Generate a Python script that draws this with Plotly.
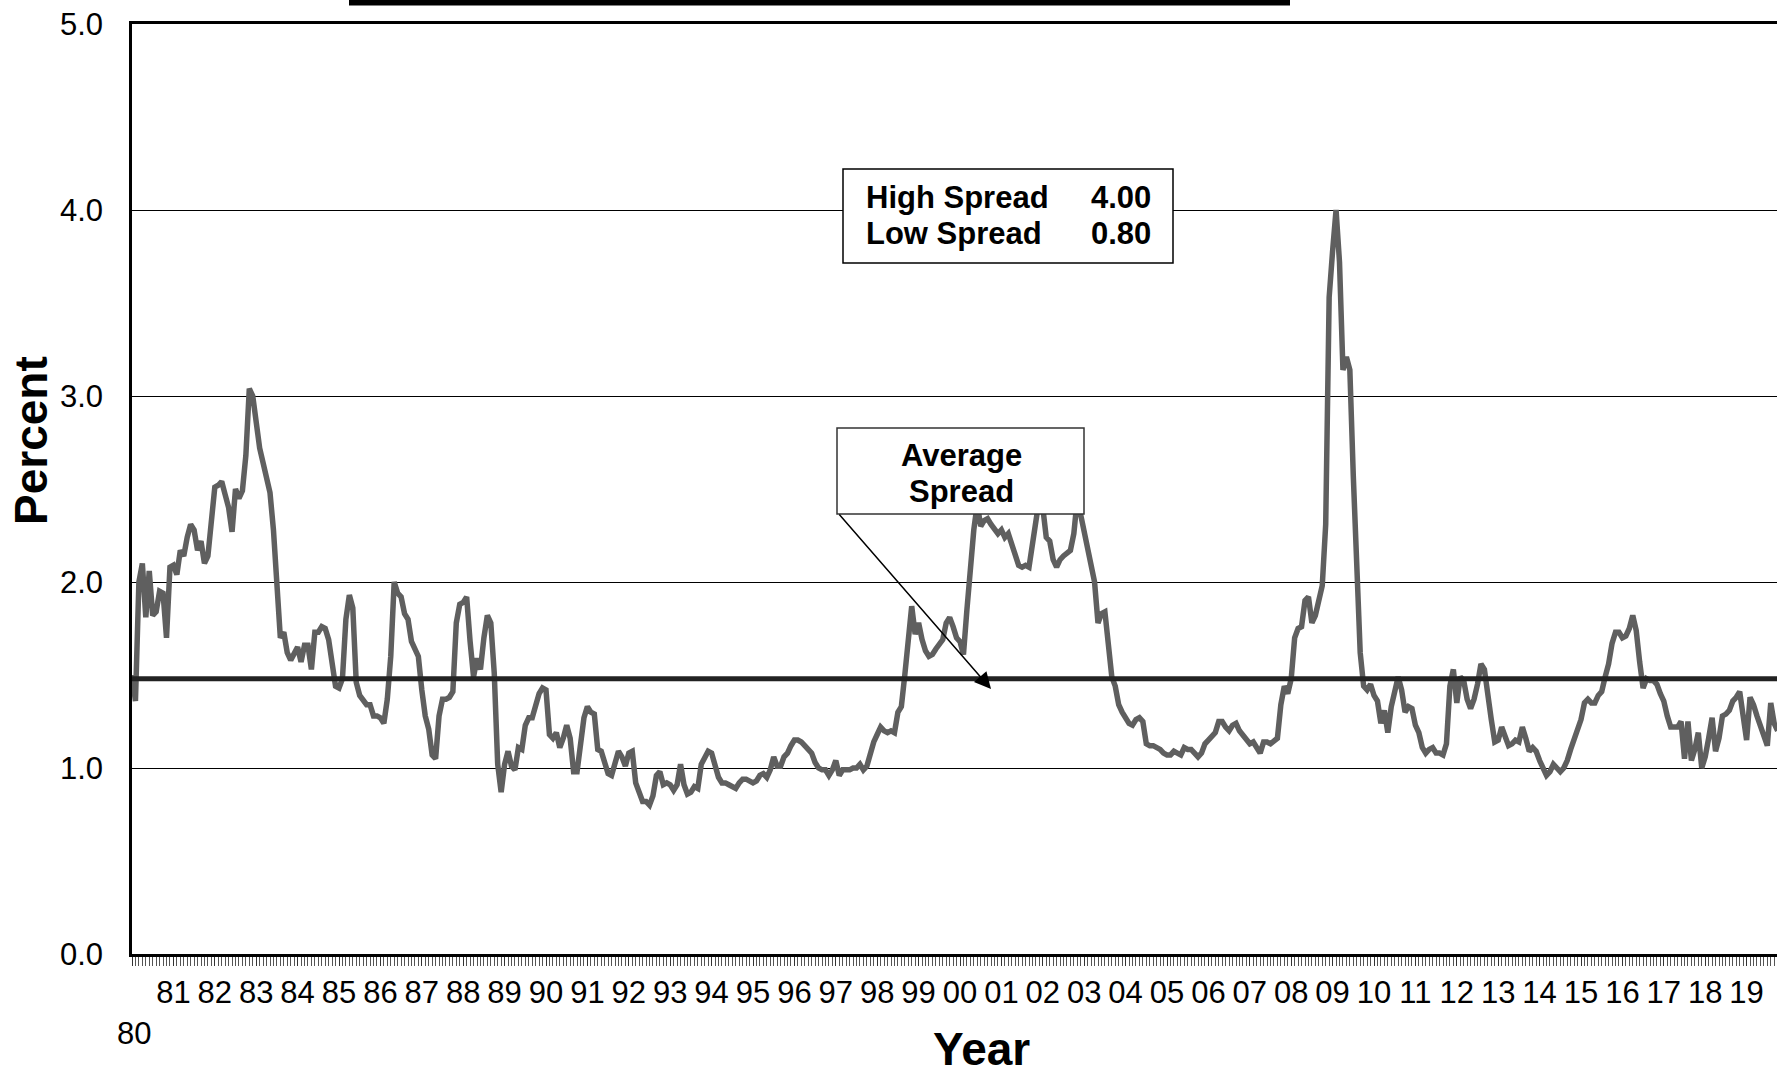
import plotly.graph_objects as go

# Monthly spread (percent), Jan 1980 onwards
spread_1980s = [
    1.50, 1.36, 2.00, 2.10, 1.81, 2.06, 1.82, 1.84, 1.95, 1.94, 1.70, 2.08,  # 1980
    2.09, 2.04, 2.17, 2.14, 2.24, 2.31, 2.28, 2.17, 2.22, 2.10, 2.14, 2.35,  # 1981
    2.51, 2.52, 2.54, 2.47, 2.40, 2.27, 2.50, 2.45, 2.49, 2.68, 3.04, 3.00,  # 1982
    2.83, 2.72, 2.64, 2.55, 2.48, 2.28, 1.92, 1.70, 1.73, 1.62, 1.58, 1.61,  # 1983
    1.65, 1.57, 1.66, 1.66, 1.53, 1.73, 1.73, 1.76, 1.75, 1.69, 1.57, 1.44,  # 1984
    1.43, 1.48, 1.80, 1.93, 1.86, 1.46, 1.39, 1.37, 1.34, 1.34, 1.28, 1.28,  # 1985
    1.27, 1.24, 1.37, 1.60, 2.00, 1.94, 1.92, 1.83, 1.80, 1.68, 1.63, 1.60,  # 1986
    1.42, 1.28, 1.21, 1.07, 1.05, 1.28, 1.37, 1.37, 1.38, 1.41, 1.78, 1.88,  # 1987
    1.89, 1.92, 1.68, 1.49, 1.59, 1.53, 1.70, 1.82, 1.78, 1.51, 1.02, 0.87,  # 1988
    1.02, 1.09, 1.01, 0.99, 1.11, 1.10, 1.23, 1.27, 1.27, 1.33, 1.40, 1.43,  # 1989
]
spread_1990s = [
    1.42, 1.18, 1.16, 1.19, 1.11, 1.16, 1.23, 1.16, 0.98, 0.98, 1.12, 1.27,  # 1990
    1.33, 1.30, 1.29, 1.10, 1.09, 1.03, 0.97, 0.96, 1.03, 1.09, 1.06, 1.01,  # 1991
    1.08, 1.09, 0.92, 0.86, 0.82, 0.82, 0.80, 0.85, 0.96, 0.98, 0.91, 0.92,  # 1992
    0.91, 0.88, 0.91, 1.02, 0.91, 0.86, 0.87, 0.90, 0.89, 1.02, 1.05, 1.09,  # 1993
    1.08, 1.02, 0.95, 0.92, 0.92, 0.91, 0.90, 0.89, 0.92, 0.94, 0.94, 0.93,  # 1994
    0.92, 0.93, 0.96, 0.97, 0.95, 0.99, 1.06, 1.01, 1.01, 1.06, 1.08, 1.12,  # 1995
    1.15, 1.15, 1.14, 1.12, 1.10, 1.08, 1.03, 1.00, 0.99, 0.99, 0.96, 0.99,  # 1996
    1.04, 0.96, 0.99, 0.99, 0.99, 1.00, 1.00, 1.02, 0.99, 1.01, 1.08, 1.14,  # 1997
    1.18, 1.22, 1.20, 1.19, 1.20, 1.19, 1.30, 1.33, 1.50, 1.72, 1.87, 1.72,  # 1998
    1.78, 1.69, 1.63, 1.60, 1.61, 1.64, 1.67, 1.69, 1.78, 1.81, 1.76, 1.70,  # 1999
]
spread_2000s = [
    1.68, 1.61, 1.85, 2.10, 2.28, 2.42, 2.30, 2.33, 2.34, 2.31, 2.29, 2.26,  # 2000
    2.28, 2.24, 2.26, 2.21, 2.16, 2.09, 2.08, 2.09, 2.08, 2.21, 2.30, 2.45,  # 2001
    2.40, 2.24, 2.22, 2.12, 2.08, 2.12, 2.14, 2.16, 2.17, 2.26, 2.45, 2.36,  # 2002
    2.26, 2.17, 2.10, 2.00, 1.78, 1.83, 1.84, 1.64, 1.49, 1.44, 1.34, 1.30,  # 2003
    1.27, 1.24, 1.23, 1.26, 1.27, 1.25, 1.13, 1.12, 1.12, 1.11, 1.10, 1.08,  # 2004
    1.07, 1.07, 1.09, 1.08, 1.07, 1.11, 1.10, 1.10, 1.08, 1.06, 1.08, 1.13,  # 2005
    1.15, 1.17, 1.19, 1.25, 1.25, 1.22, 1.20, 1.23, 1.24, 1.20, 1.18, 1.15,  # 2006
    1.13, 1.14, 1.11, 1.08, 1.14, 1.14, 1.13, 1.15, 1.16, 1.34, 1.44, 1.40,  # 2007
    1.48, 1.70, 1.75, 1.76, 1.90, 1.92, 1.78, 1.82, 1.92, 1.98, 2.31, 3.53,  # 2008
    3.78, 4.00, 3.72, 3.14, 3.21, 3.14, 2.57, 2.00, 1.62, 1.44, 1.42, 1.45,  # 2009
]
spread_2010s = [
    1.39, 1.36, 1.24, 1.31, 1.19, 1.33, 1.40, 1.49, 1.42, 1.30, 1.33, 1.32,  # 2010
    1.23, 1.19, 1.11, 1.08, 1.10, 1.11, 1.08, 1.08, 1.07, 1.13, 1.44, 1.53,  # 2011
    1.35, 1.49, 1.47, 1.37, 1.32, 1.37, 1.45, 1.56, 1.53, 1.37, 1.26, 1.14,  # 2012
    1.15, 1.22, 1.16, 1.12, 1.13, 1.15, 1.14, 1.22, 1.16, 1.09, 1.11, 1.09,  # 2013
    1.04, 0.99, 0.96, 0.98, 1.02, 1.00, 0.98, 1.00, 1.04, 1.10, 1.16, 1.21,  # 2014
    1.26, 1.35, 1.37, 1.35, 1.35, 1.39, 1.41, 1.49, 1.56, 1.67, 1.73, 1.73,  # 2015
    1.70, 1.71, 1.75, 1.82, 1.74, 1.57, 1.43, 1.48, 1.47, 1.47, 1.45, 1.40,  # 2016
    1.36, 1.28, 1.22, 1.22, 1.22, 1.25, 1.05, 1.25, 1.04, 1.10, 1.19, 1.00,  # 2017
    1.06, 1.16, 1.27, 1.09, 1.16, 1.28, 1.29, 1.31, 1.36, 1.38, 1.41, 1.28,  # 2018
    1.15, 1.38, 1.34, 1.28, 1.22, 1.18, 1.12, 1.35, 1.24, 1.20,              # 2019
]

average_spread = 1.48
high_spread = 4.00
low_spread = 0.80

year_labels = ["80", "81", "82", "83", "84", "85", "86", "87", "88", "89",
               "90", "91", "92", "93", "94", "95", "96", "97", "98", "99",
               "00", "01", "02", "03", "04", "05", "06", "07", "08", "09",
               "10", "11", "12", "13", "14", "15", "16", "17", "18", "19"]
y_ticks = [0, 1, 2, 3, 4, 5]

spread = spread_1980s + spread_1990s + spread_2000s + spread_2010s
months = list(range(len(spread)))  # category positions, one per month

# page geometry (pixels)
W, H = 1777, 1075
L, R, T, B = 132, 0, 24, 121
PW, PH = W - L - R, H - T - B
MONTH_PX = 3.45


def fx(px):
    return (px - L) / PW


def fy(py):
    return (T + PH - py) / PH


FONT = "Liberation Sans, Arial, sans-serif"
TICK_SIZE = 31

fig = go.Figure()
fig.add_trace(go.Scatter(
    x=months, y=spread, mode="lines",
    line=dict(color="#5f5f5f", width=5.5), hoverinfo="skip",
))
fig.add_trace(go.Scatter(
    x=months, y=[average_spread] * len(months), mode="lines",
    line=dict(color="#222222", width=5), hoverinfo="skip",
))

fig.update_layout(
    width=W, height=H,
    margin=dict(l=L, r=R, t=T, b=B, pad=0),
    paper_bgcolor="white", plot_bgcolor="white",
    showlegend=False,
    font=dict(family=FONT, color="black"),
)

fig.update_xaxes(
    range=[0, PW / MONTH_PX],
    tickmode="array",
    tickvals=[12 * i for i in range(len(year_labels))],
    ticktext=[""] + year_labels[1:],
    ticks="outside", ticklen=9, tickwidth=1, tickcolor="#333333",
    minor=dict(dtick=1, tick0=0, ticks="outside", ticklen=9,
               tickwidth=1, tickcolor="#555555", showgrid=False),
    tickfont=dict(size=TICK_SIZE, family=FONT, color="black"),
    ticklabelstandoff=0,
    showline=True, linecolor="black", linewidth=2.5, mirror=True,
    showgrid=False, zeroline=False, fixedrange=True,
)
fig.update_yaxes(
    range=[0, 5],
    tickmode="array", tickvals=y_ticks,
    ticktext=[f"{v:.1f}" for v in y_ticks],
    ticks="", tickfont=dict(size=TICK_SIZE, family=FONT, color="black"),
    ticklabelstandoff=20,
    showgrid=True, gridcolor="black", gridwidth=1,
    showline=True, linecolor="black", linewidth=2.5,
    zeroline=False, fixedrange=True,
)

# title box edge along the top of the page
fig.add_shape(type="rect", xref="paper", yref="paper",
              x0=fx(349), x1=fx(1290), y0=fy(5.5), y1=fy(-2),
              fillcolor="black", line=dict(width=0), layer="above")
# high / low box
fig.add_shape(type="rect", xref="paper", yref="paper",
              x0=fx(843), x1=fx(1173), y0=fy(263), y1=fy(169),
              fillcolor="white", line=dict(color="black", width=1.5), layer="above")
# average spread callout box
fig.add_shape(type="rect", xref="paper", yref="paper",
              x0=fx(837), x1=fx(1084), y0=fy(514), y1=fy(428),
              fillcolor="white", line=dict(color="#333333", width=1.5), layer="above")

bold31 = dict(family=FONT, size=31, color="black")
ann = [
    dict(text="<b>High Spread</b>", x=fx(864), y=fy(197), xanchor="left", yanchor="middle", font=bold31),
    dict(text=f"<b>{high_spread:.2f}</b>", x=fx(1153), y=fy(197), xanchor="right", yanchor="middle", font=bold31),
    dict(text="<b>Low Spread</b>", x=fx(864), y=fy(233), xanchor="left", yanchor="middle", font=bold31),
    dict(text=f"<b>{low_spread:.2f}</b>", x=fx(1153), y=fy(233), xanchor="right", yanchor="middle", font=bold31),
    dict(text="<b>Average</b>", x=fx(961), y=fy(455), xanchor="center", yanchor="middle", font=bold31),
    dict(text="<b>Spread</b>", x=fx(961), y=fy(492), xanchor="center", yanchor="middle", font=bold31),
    dict(text="<b>Year</b>", x=fx(981), y=fy(1049), xanchor="center", yanchor="middle",
         font=dict(family=FONT, size=46, color="black")),
    dict(text="<b>Percent</b>", x=fx(31), y=fy(441), xanchor="center", yanchor="middle",
         textangle=-90, font=dict(family=FONT, size=46, color="black")),
    dict(text=year_labels[0], x=fx(134), y=fy(1033), xanchor="center", yanchor="middle",
         font=dict(family=FONT, size=TICK_SIZE, color="black")),
]
for a in ann:
    fig.add_annotation(xref="paper", yref="paper", showarrow=False, **a)

# arrow from the callout box to the average line
fig.add_annotation(
    xref="paper", yref="paper", x=fx(991), y=fy(689),
    axref="pixel", ayref="pixel", ax=838 - 991, ay=513 - 689,
    text="", showarrow=True, arrowhead=2, arrowsize=2.2, arrowwidth=1.5,
    arrowcolor="black", standoff=0, startstandoff=0,
)

fig.write_html("out.html")
